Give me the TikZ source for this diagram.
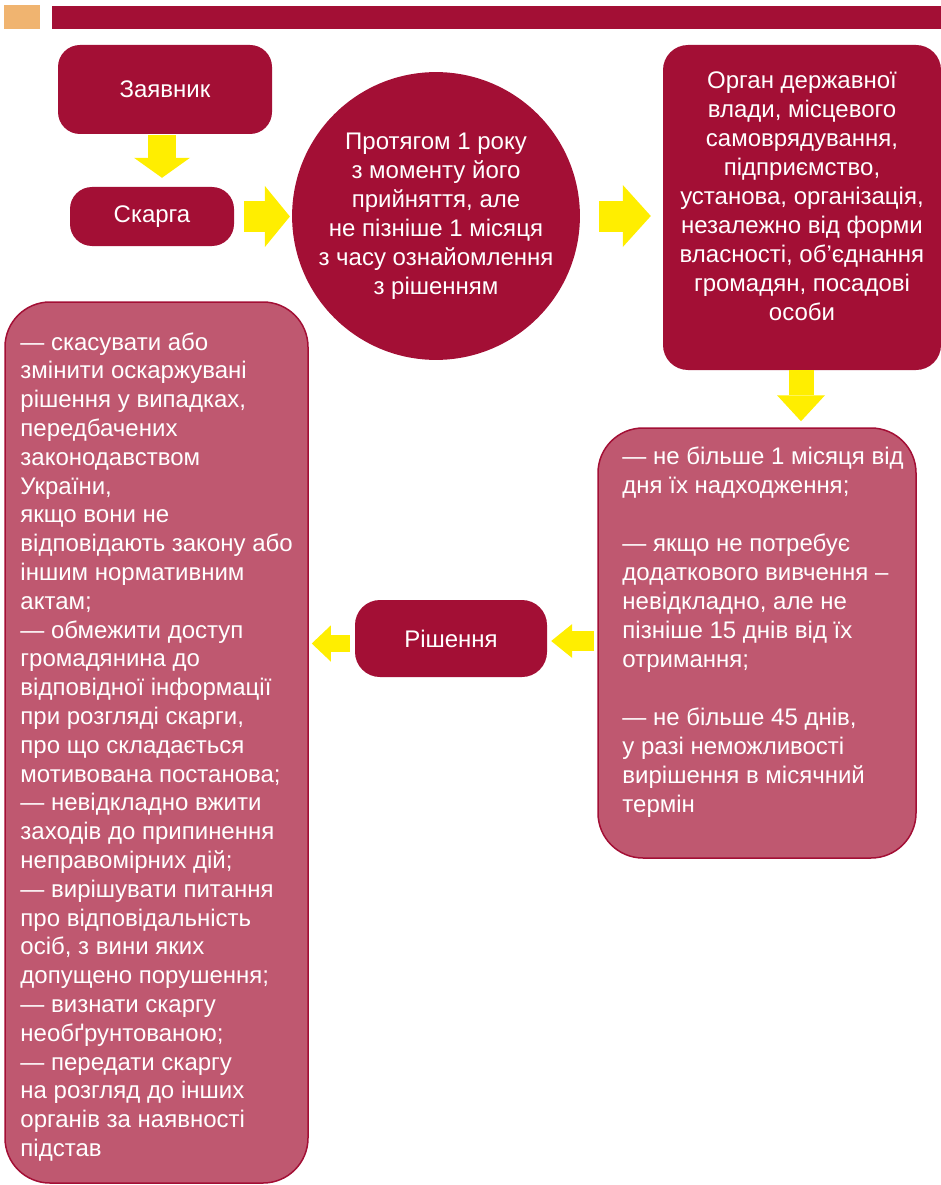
\documentclass[tikz,border=0pt]{standalone}
\usepackage{fontspec}
\setmainfont{Liberation Sans}
\usetikzlibrary{arrows.meta,positioning,shapes}

\definecolor{vyshnia}{HTML}{A30F35}
\definecolor{rozha}{HTML}{BF5870}
\definecolor{zhovtyi}{HTML}{FFEE00}
\definecolor{pomar}{HTML}{F0B470}

\tikzset{
  temna/.style={rectangle, rounded corners=22pt, fill=vyshnia, text=white,
                align=center, inner sep=0pt},
  svitla/.style={rectangle, rounded corners=45pt, fill=rozha, draw=vyshnia,
                 line width=1.5pt},
  napys/.style={text=white, inner sep=0pt},
  pil/.style n args={3}{draw=zhovtyi, line width=#1,
                        -{Triangle[length=#2, width=#3, line width=0pt]}},
}

\begin{document}
\begin{tikzpicture}[x=1pt, y=-1pt, font=\fontsize{24}{29}\selectfont]
\useasboundingbox (0,0) rectangle (941,1185);

% smuha zverhu
\fill[pomar] (4,5) rectangle (40,29);
\fill[vyshnia] (52,6) rectangle (941,29);

\node[temna, minimum width=214pt, minimum height=89pt] (zayavnyk) at (165,89.5) {Заявник};
\node[temna, minimum width=164pt, minimum height=59pt] (skarga) at (152,216.5) {Скарга};
\node[circle, fill=vyshnia, text=white, align=center, minimum size=282pt,
      inner sep=0pt] (strok) at (436,216)
      {Протягом 1 року\\з моменту його\\прийняття, але\\не пізніше 1 місяця\\з часу ознайомлення\\з рішенням};

\node[temna, rounded corners=25pt, minimum width=278pt, minimum height=325pt] (organ) at (802,207.5) {};
\node[napys, align=center, anchor=north] (organtekst) at ([yshift=-27pt]organ.north)
      {Орган державної\\влади, місцевого\\самоврядування,\\підприємство,\\установа, організація,\\незалежно від форми\\власності, об’єднання\\громадян, посадові\\особи};

\node[svitla, minimum width=318pt, minimum height=430pt] (termin) at (757,643) {};
\node[napys, align=left, anchor=north west] (termintekst) at ([xshift=25pt,yshift=-19pt]termin.north west)
      {— не більше 1 місяця від\\дня їх надходження;\\[29pt]— якщо не потребує\\додаткового вивчення –\\невідкладно, але не\\пізніше 15 днів від їх\\отримання;\\[29pt]— не більше 45 днів,\\у разі неможливості\\вирішення в місячний\\термін};

\node[temna, rounded corners=25pt, minimum width=192pt, minimum height=77pt] (rishennia) at (451,638.5) {Рішення};

\node[svitla, minimum width=303pt, minimum height=881pt] (perelik) at (156.5,742.5) {};
\node[napys, align=left, anchor=north west, font=\fontsize{24}{28.8}\selectfont] (pereliktekst)
      at ([xshift=16pt,yshift=-31pt]perelik.north west)
      {— скасувати або\\змінити оскаржувані\\рішення у випадках,\\передбачених\\законодавством\\України,\\якщо вони не\\відповідають закону або\\іншим нормативним\\актам;\\— обмежити доступ\\громадянина до\\відповідної інформації\\при розгляді скарги,\\про що складається\\мотивована постанова;\\— невідкладно вжити\\заходів до припинення\\неправомірних дій;\\— вирішувати питання\\про відповідальність\\осіб, з вини яких\\допущено порушення;\\— визнати скаргу\\необґрунтованою;\\— передати скаргу\\на розгляд до інших\\органів за наявності\\підстав};

% strilky
\draw[pil={28pt}{20pt}{56pt}, shorten <=1pt, shorten >=9pt]
  ([xshift=-3pt]zayavnyk.south) -- ([xshift=-3pt]zayavnyk.south |- skarga.north);
\draw[pil={31pt}{25pt}{61pt}, shorten <=10pt, shorten >=2pt]
  (skarga.east) -- (skarga.east -| strok.west);
\draw[pil={31pt}{28pt}{62pt}, shorten <=19pt, shorten >=12pt]
  (strok.east) -- (strok.east -| organ.west);
\draw[pil={25pt}{26pt}{48pt}, shorten >=6pt]
  ([xshift=-1pt]organ.south) -- ([xshift=-1pt]organ.south |- termin.north);
\draw[pil={20pt}{21pt}{34pt}, shorten <=3pt, shorten >=4pt]
  ([yshift=-2.5pt]rishennia.east -| termin.west) -- ([yshift=-2.5pt]rishennia.east);
\draw[pil={17pt}{19pt}{36pt}, shorten <=5pt, shorten >=3pt]
  ([yshift=-5pt]rishennia.west) -- ([yshift=-5pt]rishennia.west -| perelik.east);
\end{tikzpicture}
\end{document}
